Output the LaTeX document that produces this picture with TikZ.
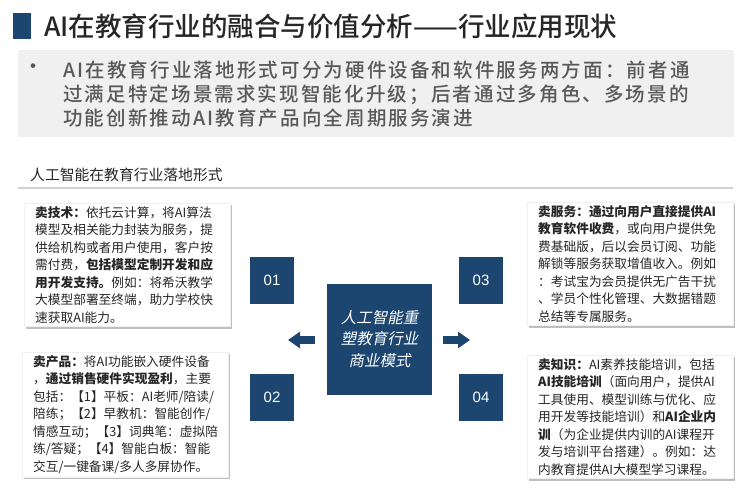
\documentclass[tikz,border=0pt]{standalone}
\usepackage{fontspec}
\setmainfont{Noto Sans CJK SC}
\newfontfamily\slantfont[FakeSlant=0.2]{Noto Sans CJK SC}
\newfontfamily\headfont{Noto Sans CJK SC Medium}
\newfontfamily\numfont{Liberation Sans}
\usepackage{xcolor}
\usetikzlibrary{arrows.meta,positioning,shadows}
\definecolor{navy}{RGB}{28,70,112}
\definecolor{panelgray}{RGB}{240,240,240}
\definecolor{textgray}{RGB}{89,89,89}
\definecolor{darktext}{RGB}{38,38,38}

\begin{document}
\begin{tikzpicture}[x=1pt, y=-1pt, every node/.style={inner sep=0pt},
  infobox/.style={fill=white, draw=black!6, anchor=north west, text width=184pt, align=left, inner xsep=11pt, inner ysep=3.2pt, font=\fontsize{12.7}{17.5}\selectfont, text=darktext, drop shadow={shadow xshift=2pt, shadow yshift=-2pt, fill=black, opacity=0.25}},
  numbox/.style={fill=navy, minimum width=44pt, minimum height=47pt, text=white, font=\numfont\fontsize{15}{15}\selectfont},
  blockarrow/.style={draw=navy, line width=8pt, -{Triangle[length=12pt, width=16pt]}}]
\useasboundingbox (0,0) rectangle (744,489);

% title
\fill[navy] (13,13) rectangle (31,39);
\node[anchor=west, text=darktext, font=\headfont\fontsize{26.5}{26.5}\selectfont] (title) at (44,26) {AI在教育行业的融合与价值分析——行业应用现状};

% summary panel
\fill[panelgray] (18,50) rectangle (734,137);
\node[text=textgray, font=\fontsize{22}{22}\selectfont] (dot) at (33,69) {•};
\node[anchor=north west, align=left, text=textgray, font=\headfont\addfontfeature{LetterSpace=11}\fontsize{19.5}{24}\selectfont] (summary) at (63,61)
  {AI在教育行业落地形式可分为硬件设备和软件服务两方面：前者通\\过满足特定场景需求实现智能化升级；后者通过多角色、多场景的\\功能创新推动AI教育产品向全周期服务演进};

% subtitle
\node[anchor=west, text=darktext, font=\fontsize{14.8}{14.8}\selectfont] (subtitle) at (30,175) {人工智能在教育行业落地形式};
\draw[black!18, line width=1.5pt] (18,188) -- (733,188);

% four business models
\node[infobox] (tech) at (24,203) {\textbf{卖技术：}依托云计算，将AI算法\\模型及相关能力封装为服务，提\\供给机构或者用户使用，客户按\\需付费，\textbf{包括模型定制开发和应}\\\textbf{用开发支持。}例如：将希沃教学\\大模型部署至终端，助力学校快\\速获取AI能力。};
\node[infobox] (product) at (22,352) {\textbf{卖产品：}将AI功能嵌入硬件设备\\，\textbf{通过销售硬件实现盈利}，主要\\包括：【1】平板：AI老师/陪读/\\陪练；【2】早教机：智能创作/\\情感互动；【3】词典笔：虚拟陪\\练/答疑；【4】智能白板：智能\\交互/一键备课/多人多屏协作。};
\node[infobox] (service) at (527,202) {\textbf{卖服务：通过向用户直接提供AI}\\\textbf{教育软件收费}，或向用户提供免\\费基础版，后以会员订阅、功能\\解锁等服务获取增值收入。例如\\：考试宝为会员提供无广告干扰\\、学员个性化管理、大数据错题\\总结等专属服务。};
\node[infobox] (knowledge) at (527,355) {\textbf{卖知识：}AI素养技能培训，包括\\\textbf{AI技能培训}（面向用户，提供AI\\工具使用、模型训练与优化、应\\用开发等技能培训）和\textbf{AI企业内}\\\textbf{训}（为企业提供内训的AI课程开\\发与培训平台搭建）。例如：达\\内教育提供AI大模型学习课程。};

% numbers
\node[numbox] (n1) at (272,280) {01};
\node[numbox] (n2) at (272,397.5) {02};
\node[numbox] (n3) at (481,280) {03};
\node[numbox] (n4) at (481,397.5) {04};

% core
\node[fill=navy, minimum width=105pt, minimum height=111pt, align=center, text=white, font=\slantfont\fontsize{15.5}{21.5}\selectfont] (core) at (379.5,339) {人工智能重\\塑教育行业\\商业模式};
\coordinate (ltip) at (288,340);
\coordinate (rtip) at (470,340);
\draw[blockarrow] ([xshift=-12pt]core.west |- ltip) -- (ltip);
\draw[blockarrow] ([xshift=11pt]core.east |- rtip) -- (rtip);
\end{tikzpicture}
\end{document}
